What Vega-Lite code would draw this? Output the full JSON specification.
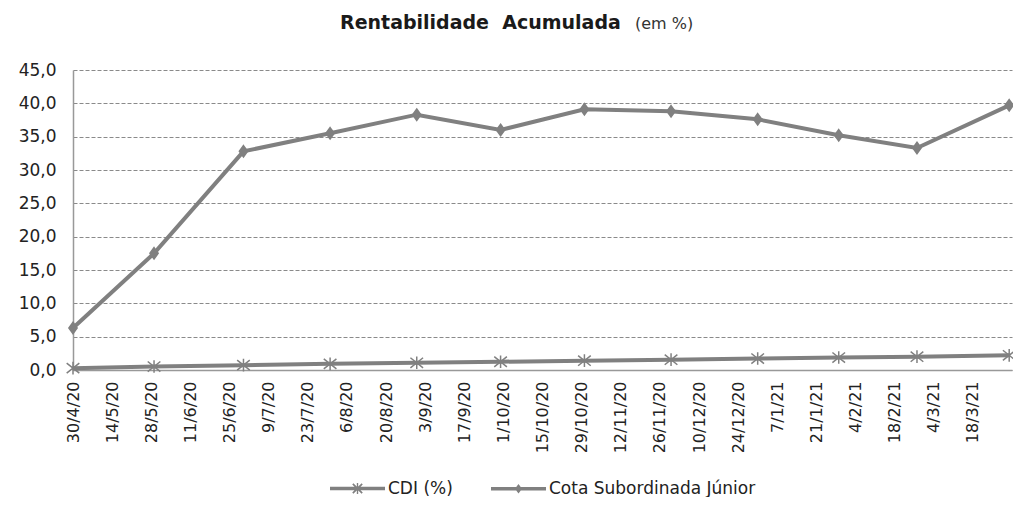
{
  "$schema": "https://vega.github.io/schema/vega-lite/v6.json",
  "width": 939,
  "height": 300,
  "padding": {"left": 18, "top": 14, "right": 0, "bottom": 0},
  "background": "white",
  "title": {
    "text": "Rentabilidade\u00a0\u00a0Acumulada",
    "subtitle": "\u200b\u00a0\u00a0\u00a0\u00a0\u00a0\u00a0\u00a0\u00a0\u00a0\u00a0\u00a0\u00a0\u00a0\u00a0\u00a0\u00a0\u00a0\u00a0\u00a0\u00a0\u00a0\u00a0\u00a0\u00a0\u00a0\u00a0\u00a0\u00a0\u00a0\u00a0\u00a0\u00a0\u00a0\u00a0\u00a0\u00a0\u00a0\u00a0\u00a0\u00a0\u00a0\u00a0\u00a0\u00a0\u00a0\u00a0\u00a0\u00a0\u00a0\u00a0\u00a0\u00a0\u00a0\u00a0\u00a0\u00a0\u00a0\u00a0(em %)",
    "anchor": "start",
    "frame": "group",
    "dx": 267,
    "font": "DejaVu Sans",
    "fontSize": 19,
    "fontWeight": "bold",
    "color": "#1a1a1a",
    "subtitleFont": "DejaVu Sans",
    "subtitleFontSize": 16,
    "subtitleColor": "#333333",
    "subtitlePadding": -17,
    "offset": 28
  },
  "data": {
    "values": [
      {"date": "2020-04-30", "series": "CDI (%)", "value": 0.28},
      {"date": "2020-05-29", "series": "CDI (%)", "value": 0.52},
      {"date": "2020-06-30", "series": "CDI (%)", "value": 0.73},
      {"date": "2020-07-31", "series": "CDI (%)", "value": 0.92},
      {"date": "2020-08-31", "series": "CDI (%)", "value": 1.08},
      {"date": "2020-09-30", "series": "CDI (%)", "value": 1.24},
      {"date": "2020-10-30", "series": "CDI (%)", "value": 1.40},
      {"date": "2020-11-30", "series": "CDI (%)", "value": 1.55},
      {"date": "2020-12-31", "series": "CDI (%)", "value": 1.72},
      {"date": "2021-01-29", "series": "CDI (%)", "value": 1.87},
      {"date": "2021-02-26", "series": "CDI (%)", "value": 2.00},
      {"date": "2021-03-31", "series": "CDI (%)", "value": 2.20},
      {"date": "2020-04-30", "series": "Cota Subordinada Júnior", "value": 6.3},
      {"date": "2020-05-29", "series": "Cota Subordinada Júnior", "value": 17.5},
      {"date": "2020-06-30", "series": "Cota Subordinada Júnior", "value": 32.8},
      {"date": "2020-07-31", "series": "Cota Subordinada Júnior", "value": 35.5},
      {"date": "2020-08-31", "series": "Cota Subordinada Júnior", "value": 38.3},
      {"date": "2020-09-30", "series": "Cota Subordinada Júnior", "value": 36.0},
      {"date": "2020-10-30", "series": "Cota Subordinada Júnior", "value": 39.1},
      {"date": "2020-11-30", "series": "Cota Subordinada Júnior", "value": 38.8},
      {"date": "2020-12-31", "series": "Cota Subordinada Júnior", "value": 37.6},
      {"date": "2021-01-29", "series": "Cota Subordinada Júnior", "value": 35.2},
      {"date": "2021-02-26", "series": "Cota Subordinada Júnior", "value": 33.3},
      {"date": "2021-03-31", "series": "Cota Subordinada Júnior", "value": 39.7}
    ]
  },
  "encoding": {
    "x": {
      "field": "date",
      "type": "temporal",
      "scale": {
        "type": "utc",
        "nice": false,
        "domain": [
          {"year": 2020, "month": 4, "date": 30, "utc": true},
          {"year": 2021, "month": 4, "date": 1, "utc": true}
        ]
      },
      "axis": {
        "title": null,
        "values": [
          {"year": 2020, "month": 4, "date": 30, "utc": true},
          {"year": 2020, "month": 5, "date": 14, "utc": true},
          {"year": 2020, "month": 5, "date": 28, "utc": true},
          {"year": 2020, "month": 6, "date": 11, "utc": true},
          {"year": 2020, "month": 6, "date": 25, "utc": true},
          {"year": 2020, "month": 7, "date": 9, "utc": true},
          {"year": 2020, "month": 7, "date": 23, "utc": true},
          {"year": 2020, "month": 8, "date": 6, "utc": true},
          {"year": 2020, "month": 8, "date": 20, "utc": true},
          {"year": 2020, "month": 9, "date": 3, "utc": true},
          {"year": 2020, "month": 9, "date": 17, "utc": true},
          {"year": 2020, "month": 10, "date": 1, "utc": true},
          {"year": 2020, "month": 10, "date": 15, "utc": true},
          {"year": 2020, "month": 10, "date": 29, "utc": true},
          {"year": 2020, "month": 11, "date": 12, "utc": true},
          {"year": 2020, "month": 11, "date": 26, "utc": true},
          {"year": 2020, "month": 12, "date": 10, "utc": true},
          {"year": 2020, "month": 12, "date": 24, "utc": true},
          {"year": 2021, "month": 1, "date": 7, "utc": true},
          {"year": 2021, "month": 1, "date": 21, "utc": true},
          {"year": 2021, "month": 2, "date": 4, "utc": true},
          {"year": 2021, "month": 2, "date": 18, "utc": true},
          {"year": 2021, "month": 3, "date": 4, "utc": true},
          {"year": 2021, "month": 3, "date": 18, "utc": true}
        ],
        "labelExpr": "utcFormat(datum.value, '%-d/%-m/%y')",
        "labelAngle": -90,
        "labelFont": "DejaVu Sans",
        "labelFontSize": 16,
        "labelColor": "#222222",
        "labelPadding": 11,
        "labelOverlap": false,
        "labelBound": false,
        "labelFlush": false,
        "ticks": false,
        "grid": false,
        "domainColor": "#999999",
        "domainWidth": 1.5
      }
    },
    "y": {
      "field": "value",
      "type": "quantitative",
      "scale": {"domain": [0, 45], "nice": false},
      "axis": {
        "title": null,
        "values": [0, 5, 10, 15, 20, 25, 30, 35, 40, 45],
        "labelExpr": "replace(format(datum.value, '.1f'), '.', ',')",
        "labelFont": "DejaVu Sans",
        "labelFontSize": 17,
        "labelColor": "#222222",
        "labelPadding": 17,
        "ticks": false,
        "grid": true,
        "gridColor": "#8a8a8a",
        "gridDash": [4, 2],
        "gridWidth": 1,
        "domainColor": "#999999",
        "domainWidth": 1.5
      }
    }
  },
  "layer": [
    {
      "mark": {"type": "line", "color": "#808080", "strokeWidth": 4},
      "encoding": {"detail": {"field": "series"}}
    },
    {
      "mark": {"type": "point", "filled": true, "fill": "#808080", "stroke": "#808080", "strokeWidth": 1.5, "size": 160, "opacity": 1},
      "encoding": {
        "shape": {
          "field": "series",
          "type": "nominal",
          "scale": {
            "domain": ["CDI (%)", "Cota Subordinada Júnior"],
            "range": ["M-1,-0.8L1,0.8M-1,0.8L1,-0.8M0,-1L0,1", "M0,-0.9L0.65,0L0,0.9L-0.65,0Z"]
          },
          "legend": null
        }
      }
    },
    {
      "transform": [{"filter": "datum.value < 0"}],
      "mark": {"type": "point", "filled": true, "color": "#808080", "fill": "#808080", "opacity": 1},
      "encoding": {
        "shape": {
          "field": "series",
          "type": "nominal",
          "scale": {
            "domain": ["CDI (%)", "Cota Subordinada Júnior"],
            "range": [
              "M-1,-0.065L1,-0.065L1,0.065L-1,0.065ZM-0.025,-0.2L0.025,-0.2L0.025,0.2L-0.025,0.2ZM-0.148,-0.192L0.192,0.148L0.148,0.192L-0.192,-0.148ZM-0.148,0.192L-0.192,0.148L0.148,-0.192L0.192,-0.148Z",
              "M-1,-0.065L1,-0.065L1,0.065L-1,0.065ZM0,-0.17L0.13,0L0,0.17L-0.13,0Z"
            ]
          },
          "legend": {
            "title": null,
            "orient": "bottom",
            "direction": "horizontal",
            "offset": 7,
            "symbolSize": 3025,
            "symbolFillColor": "#808080",
            "symbolOpacity": 1,
            "labelFont": "DejaVu Sans",
            "labelFontSize": 17,
            "labelColor": "#222222",
            "labelOffset": 2,
            "labelLimit": 400,
            "columnPadding": 35,
            "encode": {
              "symbols": {
                "fill": {"value": "#808080"},
                "opacity": {"value": 1}
              }
            }
          }
        }
      }
    }
  ],
  "resolve": {"scale": {"shape": "independent"}, "legend": {"shape": "independent"}},
  "config": {
    "view": {"stroke": null},
    "legend": {"layout": {"bottom": {"anchor": "middle"}}}
  }
}
